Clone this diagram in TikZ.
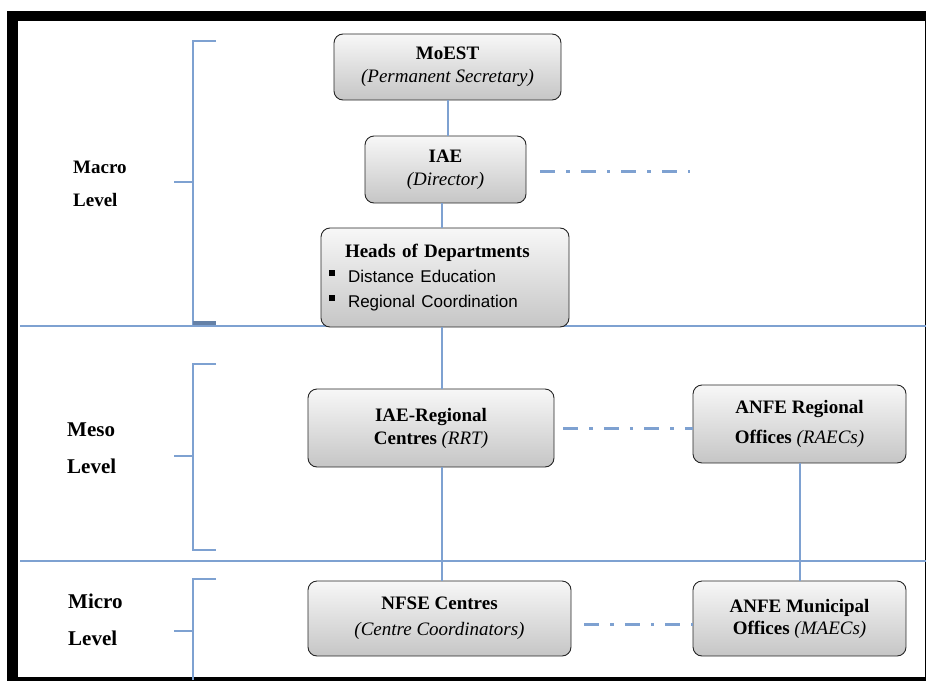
\documentclass[tikz,border=0pt]{standalone}
\usepackage{fontspec}
\setmainfont{Liberation Serif}
\newfontfamily\listfont{Liberation Sans}
\definecolor{linkblue}{RGB}{126,161,209}
\newcommand{\sqbullet}{\leavevmode\llap{\rule[6pt]{6pt}{6pt}\hspace{10pt}}\hspace{3pt}}
\tikzset{
  unit/.style={draw=black!85, line width=0.9pt, rounded corners=9pt,
    top color=gray!6, bottom color=gray!45, align=center, inner sep=0pt,
    font=\fontsize{19}{23}\selectfont},
  feedline/.style={draw=linkblue, line width=2pt},
  liaison/.style={draw=linkblue, line width=3pt,
    dash pattern=on 15pt off 11pt on 3.5pt off 11pt},
  tier/.style={anchor=west, align=left, inner sep=0pt},
  bracket/.style={linkblue, line width=2.2pt},
}
\begin{document}
\begin{tikzpicture}[x=1pt,y=-1pt]
  \useasboundingbox (0,0) rectangle (926,680);
  % frame
  \draw[line width=11pt] (12.5,11) -- (12.5,680);
  \draw[line width=10pt] (7,16) -- (926,16);
  \draw[line width=1pt] (925.5,16) -- (925.5,680);
  \draw[line width=7pt] (7,680) -- (926,680);
  % level bands
  \draw[linkblue, line width=2pt] (20,326) -- (926,326);
  \draw[linkblue, line width=2pt] (20,561) -- (926,561);
  \draw[bracket] (216,41) -- (193,41) -- (193,324) -- (216,324);
  \draw[bracket] (174,182) -- (193,182);
  \draw[linkblue!80!black, line width=3.5pt] (193,323) -- (216,323);
  \draw[bracket] (216,364) -- (193,364) -- (193,550) -- (216,550);
  \draw[bracket] (174,456) -- (193,456);
  \draw[bracket] (216,579) -- (193,579) -- (193,680);
  \draw[bracket] (174,631) -- (193,631);
  \path
    (73,184) node[tier, font=\fontsize{19}{33}\selectfont\bfseries] (macro) {Macro\\Level}
    (67,448) node[tier, font=\fontsize{21}{37}\selectfont\bfseries] (meso) {Meso\\Level}
    (68,620) node[tier, font=\fontsize{21}{37}\selectfont\bfseries] (micro) {Micro\\Level};
  % units
  \path
    (447.5,67) node[unit, minimum width=227, minimum height=66] (moest)
      {\textbf{MoEST}\\\textit{(Permanent Secretary)}}
    (445.5,169.5) node[unit, minimum width=161, minimum height=67] (iae)
      {\textbf{IAE}\\\textit{(Director)}}
    (445,277.5) node[unit, minimum width=248, minimum height=99, align=left,
      text width=200, font=\fontsize{19}{25}\selectfont] (heads)
      {\textbf{Heads of Departments}\\
       \sqbullet{\listfont\fontsize{17}{25}\selectfont Distance Education}\\
       \sqbullet{\listfont\fontsize{17}{25}\selectfont Regional Coordination}}
    (431,428) node[unit, minimum width=246, minimum height=78] (rrt)
      {\textbf{IAE-Regional}\\\textbf{Centres} \textit{(RRT)}}
    (799.5,424) node[unit, minimum width=213, minimum height=78,
      font=\fontsize{19}{30}\selectfont] (anfereg)
      {\textbf{ANFE Regional}\\\textbf{Offices} \textit{(RAECs)}}
    (439.5,618.5) node[unit, minimum width=263, minimum height=75,
      font=\fontsize{19}{26}\selectfont] (nfse)
      {\textbf{NFSE Centres}\\\textit{(Centre Coordinators)}}
    (799.5,618.5) node[unit, minimum width=213, minimum height=75,
      font=\fontsize{19}{22}\selectfont] (anfemun)
      {\textbf{ANFE Municipal}\\\textbf{Offices} \textit{(MAECs)}};
  \coordinate (spine) at (442,0);
  \coordinate (iaetail) at (690,171);
  \coordinate (mclink) at (693,624);
  \begin{scope}[feedline]
    \draw (moest.south) to (moest.south |- iae.north);
    \draw (spine |- iae.south) to (spine |- heads.north);
    \draw (spine |- heads.south) to (spine |- rrt.north);
    \draw (spine |- rrt.south) to (spine |- nfse.north);
    \draw (anfereg.south) to (anfemun.north);
  \end{scope}
  \begin{scope}[liaison]
    \draw[shorten <=14pt] (iaetail -| iae.east) to (iaetail);
    \draw[shorten <=9pt] (rrt.east) to (rrt.east -| anfereg.west);
    \draw[shorten <=13pt] (mclink -| nfse.east) to (mclink -| anfemun.west);
  \end{scope}
\end{tikzpicture}
\end{document}
